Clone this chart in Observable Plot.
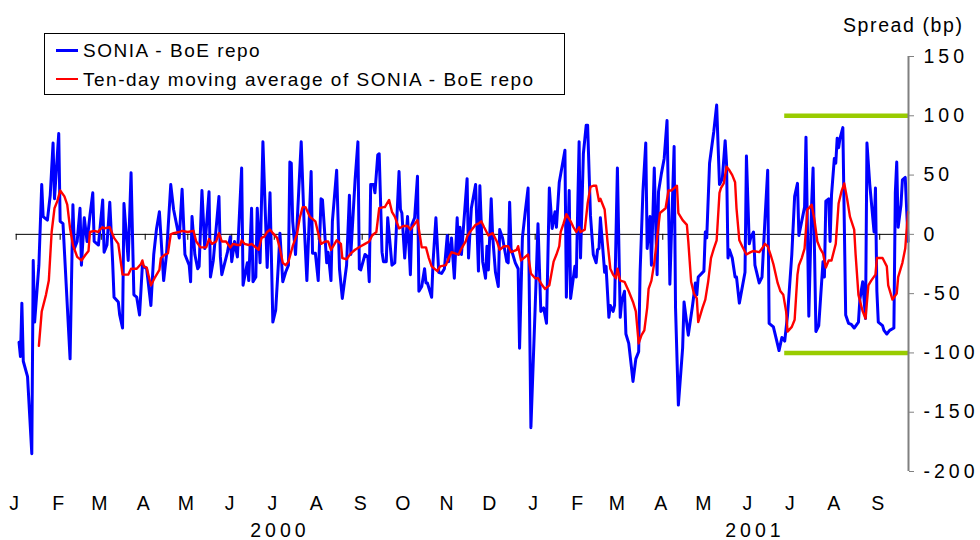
<!DOCTYPE html>
<html>
<head>
<meta charset="utf-8">
<script src="https://cdn.jsdelivr.net/npm/d3@7"></script>
<script src="https://cdn.jsdelivr.net/npm/@observablehq/plot@0.6"></script>
<style>
  html, body { margin: 0; padding: 0; background: #fff; }
  #wrap { position: relative; width: 980px; height: 540px; overflow: hidden; font-family: "Liberation Sans", Arial, sans-serif; }
  #chart { position: absolute; left: 0; top: 0; }
  .abs { position: absolute; white-space: nowrap; }
  #legend { left: 44px; top: 33px; width: 521px; height: 62px; box-sizing: border-box; border: 1.6px solid #000; background: #fff; }
  .lbl { font-size: 19px; line-height: 19px; letter-spacing: 1.5px; color: #000; }
  .sw { height: 3px; width: 22px; }
  #ylab { left: 843px; top: 16px; font-size: 19.5px; line-height: 19px; letter-spacing: 1.6px; color: #000; }
</style>
</head>
<body>
<div id="wrap">
  <div id="chart"></div>
  <div id="legend" class="abs"></div>
  <div class="abs sw" style="left:56px;top:48.5px;background:#0000ff;height:3px"></div>
  <div class="abs sw" style="left:56px;top:77.5px;background:#ff0000;height:2.2px"></div>
  <div id="lab1" class="abs lbl" style="left:83px;top:41px"></div>
  <div id="lab2" class="abs lbl" style="left:83px;top:70px"></div>
  <div id="ylab" class="abs"></div>
</div>
<script>
// ---------- data (day offset from 1 Jan 2000, spread in bp) ----------
const seriesNames = ["SONIA - BoE repo", "Ten-day moving average of SONIA - BoE repo"];
const yTitle = "Spread (bp)";
const monthLetters = ["J","F","M","A","M","J","J","A","S","O","N","D"];
const yTicks = [-200, -150, -100, -50, 0, 50, 100, 150];
const yearLabelDates = ["2000-07-05", "2001-06-05"];
const axisStart = "2000-01-01";
const axisEndDay = 629.3;
const bandStartDate = "2001-06-26";
const bandLevels = [100, -100];

const soniaSpread = [
[2,-91],[3,-103],[4,-58],[5,-107],[8,-120],[11,-185],[12,-22],[13,-74],[16,-26],[18,42],[19,15],[22,12],[24,33],[26,77],[27,30],[30,85],[31,11],[33,9],[38,-105],[40,25],[41,-12],[43,-6],[45,22],[46,-26],[48,14],[50,-6],[52,16],[54,35],[55,-6],[58,-9],[61,29],[62,-15],[64,-9],[66,27],[68,-23],[69,-53],[72,-57],[73,-68],[75,-79],[76,26],[79,-22],[81,52],[83,-51],[85,-53],[87,-68],[89,-26],[92,-29],[95,-60],[97,-17],[99,5],[101,19],[104,-39],[106,-17],[109,42],[111,21],[115,-3],[117,38],[119,-17],[122,-26],[123,-40],[124,15],[126,-17],[128,-29],[129,-27],[131,37],[133,-12],[136,36],[137,-36],[139,-22],[143,32],[144,-19],[145,-34],[149,-15],[151,-2],[152,-23],[154,-6],[156,-19],
[159,56],[160,-43],[163,-24],[164,-39],[166,22],[167,-40],[169,-36],[170,22],[172,-24],[174,78],[177,-28],[179,35],[181,-74],[183,-64],[185,-23],[186,1],[188,-40],[190,-32],[192,-26],[193,61],[194,60],[195,11],[197,-17],[201,78],[203,11],[205,-39],[208,53],[209,-16],[211,-16],[213,-39],[215,30],[216,29],[219,-24],[220,-15],[222,-39],[223,11],[226,54],[228,-29],[230,-54],[233,-26],[235,33],[236,-17],[239,46],[241,78],[242,-29],[243,-30],[246,-17],[248,-19],[249,-40],[250,42],[252,42],[253,35],[255,67],[256,68],[258,-15],[259,-23],[261,-23],[262,14],[263,1],[265,-26],[267,-24],[270,53],[271,21],[272,18],[274,-20],[276,15],[278,-34],[279,8],[281,14],[283,49],[284,-48],[286,-44],[288,-29],[289,-41],[290,-41],[293,-53],[294,-23],[296,14],[298,-32],[300,-33],[302,-29],[304,-1],[305,-23],[307,-3],[309,-37],[311,14],[312,-17],[313,6],[314,-17],
[318,47],[319,-20],[321,22],[324,42],[326,-31],[327,41],[329,-23],[331,-37],[332,-10],[333,-30],[335,30],[336,-1],[338,-32],[340,-44],[341,4],[343,-3],[346,-23],[347,-24],[348,27],[349,-12],[352,-24],[354,-29],[355,-96],[357,-3],[359,19],[361,39],[363,-163],[366,-62],[368,9],[370,-65],[372,-62],[374,-75],[376,39],[378,5],[380,19],[381,6],[383,44],[387,71],[388,-53],[390,37],[391,-54],[394,-27],[395,-36],[397,78],[398,-20],[400,68],[402,92],[403,92],[405,16],[407,-17],[409,-24],[410,-13],[411,-12],[412,14],[415,-32],[416,-27],[418,-70],[419,-60],[421,-65],[422,-60],[424,56],[426,-70],[427,-57],[429,-48],[430,-84],[432,-92],[434,-113],[435,-124],[437,-105],[439,-99],[440,-32],[442,36],[444,77],[445,-12],[447,15],[448,-26],[450,56],[452,-34],[453,36],[455,51],[457,64],[459,96],[461,-42],[464,74],[465,-62],[467,-144],[470,-96],[471,-57],[474,-85],
[477,-60],[479,-41],[480,-51],[481,-36],[485,-31],[486,2],[487,-3],[489,60],[492,87],[494,109],[496,42],[498,47],[500,79],[501,59],[502,-20],[503,-13],[505,-20],[507,-36],[508,-36],[510,-58],[514,-32],[515,66],[517,-8],[518,-3],[520,2],[521,-26],[524,-41],[526,-36],[528,11],[530,54],[531,-75],[534,-78],[536,-88],[538,-98],[540,-87],[542,-90],[544,-68],[547,-17],[549,32],[551,43],[552,-1],[554,11],[556,23],[557,82],[559,-69],[561,26],[562,56],[564,-82],[566,-77],[569,-23],[570,-36],[571,28],[573,30],[574,-6],[575,33],[577,64],[578,60],[579,81],[580,73],[581,81],[583,90],[585,-68],[587,-75],[589,-76],[591,-79],[594,-74],[595,-55],[597,-40],[599,-71],[600,77],[602,42],[605,2],[606,39],[607,-48],[608,-74],[611,-77],[612,-81],[614,-84],[616,-81],[619,-79],[620,35],[621,61],[622,6],[624,25],[625,46],[627,48],[629,-6]
];

const movingAverage = [
[16,-94],[18,-65],[21,-51],[23,-39],[25,2],[27,22],[29,28],[31,37],[34,32],[36,25],[38,5],[40,-9],[43,-19],[46,-22],[49,-17],[51,-14],[52,2],[55,3],[58,2],[59,4],[61,6],[62,5],[66,6],[69,-3],[72,-8],[75,-34],[77,-34],[79,-34],[81,-29],[85,-29],[88,-25],[89,-22],[90,-27],[92,-28],[95,-43],[98,-36],[101,-30],[102,-20],[105,-17],[107,-16],[109,0],[111,1],[115,2],[117,3],[121,2],[125,3],[127,-6],[130,-11],[134,-11],[136,-4],[138,-8],[141,-6],[143,1],[145,-6],[148,-6],[151,-11],[153,-8],[156,-9],
[158,-9],[159,-5],[161,-8],[164,-9],[166,-8],[168,-10],[171,-13],[173,-3],[175,-2],[177,2],[179,4],[181,1],[184,-3],[186,-12],[188,-24],[190,-26],[192,-23],[195,-10],[198,0],[200,14],[202,23],[204,23],[207,15],[211,11],[213,1],[215,-8],[218,-6],[220,-6],[222,-13],[224,-9],[226,-5],[229,-8],[230,-20],[233,-21],[236,-16],[239,-13],[243,-10],[246,-8],[249,-6],[251,-1],[254,2],[256,22],[259,23],[260,23],[263,29],[265,19],[267,15],[270,5],[273,7],[276,7],[278,4],[283,12],[286,-11],[289,-11],[291,-20],[293,-27],[297,-31],[299,-27],[303,-26],[305,-20],[307,-15],[312,-17],[314,-12],[317,-6],
[318,-2],[320,2],[324,8],[326,9],[328,11],[330,6],[333,-1],[336,1],[339,-6],[341,-13],[344,-10],[347,-10],[349,-15],[353,-13],[354,-10],[356,-22],[359,-19],[361,-17],[363,-33],[366,-37],[368,-37],[371,-43],[373,-46],[376,-43],[379,-23],[381,-17],[383,-10],[384,2],[386,9],[388,17],[391,11],[393,6],[395,2],[397,6],[398,2],[401,4],[403,26],[405,40],[407,41],[409,41],[411,28],[412,30],[415,21],[417,-6],[419,-29],[421,-34],[423,-37],[424,-29],[426,-39],[429,-40],[432,-48],[435,-57],[437,-65],[439,-92],[441,-85],[443,-81],[445,-62],[446,-46],[448,-39],[450,-24],[452,-3],[454,18],[458,22],[460,37],[462,37],[464,39],[466,41],[467,18],[470,12],[473,8],[474,-6],
[476,-40],[478,-50],[480,-54],[481,-74],[484,-62],[486,-55],[488,-40],[490,-20],[492,-12],[494,-5],[496,35],[497,39],[499,43],[501,57],[503,54],[505,50],[507,44],[508,22],[510,-5],[512,-10],[515,-17],[518,-15],[520,-14],[524,-15],[526,-12],[528,-8],[530,-10],[532,-17],[534,-25],[537,-41],[539,-48],[541,-51],[543,-65],[544,-82],[547,-78],[549,-72],[551,-34],[552,-26],[554,-20],[556,-12],[558,21],[559,22],[561,25],[563,12],[565,-6],[567,-12],[569,-16],[571,-28],[573,-22],[575,-22],[578,-8],[580,26],[582,36],[584,43],[586,30],[588,15],[591,4],[592,-17],[594,-51],[597,-65],[599,-71],[601,-43],[603,-39],[606,-34],[607,-20],[611,-20],[614,-27],[615,-43],[618,-55],[621,-50],[622,-36],[625,-24],[627,-12],[628,4],[629,19]
];

// ---------- build ----------
const DAY = 864e5;
const t0 = new Date(axisStart + "T00:00:00Z");
const toDate = d => new Date(+t0 + d * DAY);
const xEnd = toDate(axisEndDay);
const blue = soniaSpread.map(([d, v]) => ({date: toDate(d), value: v}));
const red = movingAverage.map(([d, v]) => ({date: toDate(d), value: v}));
const monthTicks = d3.utcMonths(t0, xEnd);
const yearTicks = yearLabelDates.map(s => new Date(s + "T00:00:00Z"));
const bandStart = new Date(bandStartDate + "T00:00:00Z");

const chart = Plot.plot({
  width: 980,
  height: 540,
  marginLeft: 15.7,
  marginRight: 72,
  marginTop: 56,
  marginBottom: 69,
  x: {type: "utc", domain: [t0, xEnd]},
  y: {domain: [-200, 150]},
  style: {fontFamily: "'Liberation Sans', Arial, sans-serif", fontSize: "19.5px", letterSpacing: "4px", background: "transparent", color: "black", overflow: "visible"},
  marks: [
    Plot.ruleY([0], {stroke: "black", strokeWidth: 1}),
    Plot.ruleX(monthTicks, {y1: 0, y2: -5, stroke: "black", strokeWidth: 1}),
    Plot.line(blue, {x: "date", y: "value", stroke: "#0000ff", strokeWidth: 3}),
    Plot.line(red, {x: "date", y: "value", stroke: "#ff0000", strokeWidth: 2.4}),
    Plot.ruleY(bandLevels, {x1: bandStart, x2: xEnd, stroke: "#99cc00", strokeWidth: 4.5}),
    Plot.ruleX([xEnd], {y1: -200, y2: 150, stroke: "#808080", strokeWidth: 2}),
    Plot.axisY(yTicks, {anchor: "right", tickSize: 5, tickPadding: 10, stroke: "#808080", fill: "black", tickFormat: d => String(d), label: null}),
    Plot.axisX(monthTicks, {anchor: "bottom", tickSize: 0, tickPadding: 25, fill: "black", tickFormat: d => monthLetters[d.getUTCMonth()], label: null}),
    Plot.axisX(yearTicks, {anchor: "bottom", tickSize: 0, tickPadding: 52, fill: "black", tickFormat: d => String(d.getUTCFullYear()), label: null})
  ]
});
document.getElementById("chart").appendChild(chart);
document.getElementById("lab1").textContent = seriesNames[0];
document.getElementById("lab2").textContent = seriesNames[1];
document.getElementById("ylab").textContent = yTitle;
</script>
</body>
</html>
